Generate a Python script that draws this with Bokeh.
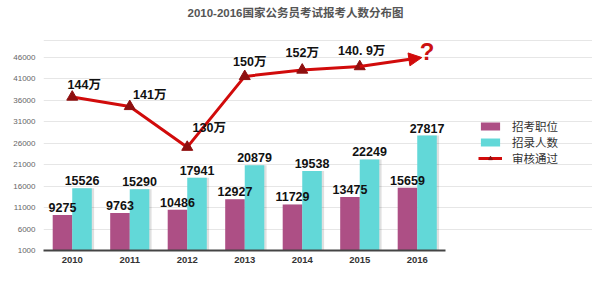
from bokeh.plotting import figure
from bokeh.models import (ColumnDataSource, Range1d, FixedTicker, Legend, LegendItem,
                          Arrow, NormalHead)
from bokeh.embed import file_html
from bokeh.resources import INLINE
from bokeh.core.properties import value

title_text = "2010-2016国家公务员考试报考人数分布图"
years = ["2010", "2011", "2012", "2013", "2014", "2015", "2016"]
positions = [9275, 9763, 10486, 12927, 11729, 13475, 15659]      # 招考职位
recruits = [15526, 15290, 17941, 20879, 19538, 22249, 27817]     # 招录人数
approved_labels = ["144万", "141万", "130万", "150万", "152万", "140. 9万"]  # 审核通过
approved_plot = [36800, 34600, 25100, 41600, 43100, 43900]        # drawn height on axis
arrow_end = 46000
y_ticks = [1000, 6000, 11000, 16000, 21000, 26000, 31000, 36000, 41000, 46000]

n = len(years)
xc = [i + 0.5 for i in range(n)]
bw = 0.34

# frame spans to the right/top edges so that legend and title are not clipped
p = figure(width=592, height=281, output_backend="svg", toolbar_location=None,
           x_range=Range1d(0, 9.548), y_range=Range1d(1000, 59300),
           min_border_left=43, min_border_right=0, min_border_top=0, min_border_bottom=31)
p.outline_line_color = None
p.background_fill_color = "white"
p.border_fill_color = "white"

CJK = "Liberation Sans, Noto Sans CJK SC"

# title
p.text(x=[4.383], y=[56270], text=[title_text], text_align="center", text_baseline="middle",
       text_font=value(CJK), text_font_style="bold", text_font_size="11.5px",
       text_color="#555555")

src = ColumnDataSource(dict(pos=positions, rec=recruits,
                            xp=[v - bw / 2 for v in xc], xr=[v + bw / 2 for v in xc],
                            xps=[v - bw / 2 + 0.04 for v in xc], xrs=[v + bw / 2 + 0.04 for v in xc],
                            pl=[str(v) for v in positions], rl=[str(v) for v in recruits]))
# shadows
p.vbar(x="xps", top="pos", bottom=1000, width=bw, source=src,
       fill_color="#000000", fill_alpha=0.12, line_color=None)
p.vbar(x="xrs", top="rec", bottom=1000, width=bw, source=src,
       fill_color="#000000", fill_alpha=0.12, line_color=None)
r_pos = p.vbar(x="xp", top="pos", bottom=1000, width=bw, source=src,
               fill_color="#ad4f85", line_color=None)
r_rec = p.vbar(x="xr", top="rec", bottom=1000, width=bw, source=src,
               fill_color="#62d8d8", line_color=None)

p.text(x="xp", y="pos", text="pl", source=src, text_align="center", text_baseline="bottom",
       y_offset=-3, text_font=value("Liberation Sans"), text_font_style="bold",
       text_font_size="12.5px", text_color="#111111")
p.text(x="xr", y="rec", text="rl", source=src, text_align="center", text_baseline="bottom",
       y_offset=-3, text_font=value("Liberation Sans"), text_font_style="bold",
       text_font_size="12.5px", text_color="#111111")

# line
lx = xc[:6]
r_line = p.line(lx, approved_plot, line_color="#d10b0b", line_width=3)
p.add_layout(Arrow(end=NormalHead(size=13, fill_color="#d10b0b", line_color="#d10b0b"),
                   x_start=xc[5], y_start=approved_plot[5], x_end=xc[6] + 0.08, y_end=arrow_end,
                   line_color="#d10b0b", line_width=3))
r_tri = p.scatter(lx, approved_plot, marker="triangle", size=11, fill_color="#8e0f0f",
                  line_color="#8e0f0f")

lsrc = ColumnDataSource(dict(x=lx, y=approved_plot, t=approved_labels,
                             dx=[12, 20, 22, 5, 0, 2], dy=[-12, -11, -19, -14, -17, -16]))
p.text(x="x", y="y", text="t", source=lsrc, x_offset="dx", y_offset="dy",
       text_align="center", text_baseline="middle", text_font=value(CJK),
       text_font_style="bold", text_font_size="12.5px", text_color="#111111")

p.text(x=[xc[6] + 0.17], y=[arrow_end], text=["?"], y_offset=-6, text_align="center",
       text_baseline="middle", text_font=value("Liberation Sans"), text_font_style="bold",
       text_font_size="24px", text_color="#cc1111")

# axes
p.yaxis.ticker = FixedTicker(ticks=y_ticks)
p.yaxis.axis_line_color = None
p.yaxis.major_tick_line_color = None
p.yaxis.minor_tick_line_color = None
p.yaxis.major_label_standoff = 2
p.yaxis.major_label_text_font = "Liberation Sans"
p.yaxis.major_label_text_font_size = "8px"
p.yaxis.major_label_text_color = "#666666"

p.xaxis.ticker = FixedTicker(ticks=xc)
p.xaxis.bounds = (0, n)
p.xaxis.major_label_overrides = {v: y for v, y in zip(xc, years)}
p.xaxis.axis_line_color = "#444444"
p.xaxis.axis_line_width = 2
p.xaxis.major_tick_line_color = None
p.xaxis.minor_tick_line_color = None
p.xaxis.major_label_standoff = 0
p.xaxis.major_label_text_font = "Liberation Sans"
p.xaxis.major_label_text_font_style = "bold"
p.xaxis.major_label_text_font_size = "9.5px"
p.xaxis.major_label_text_color = "#333333"

p.xgrid.grid_line_color = None
p.ygrid.grid_line_color = "#e6e6e6"
p.ygrid.ticker = FixedTicker(ticks=y_ticks + [50000])
p.ygrid.bounds = (0, n)

legend = Legend(items=[LegendItem(label="招考职位", renderers=[r_pos]),
                       LegendItem(label="招录人数", renderers=[r_rec]),
                       LegendItem(label="审核通过", renderers=[r_line, r_tri])],
                location=(435, 84), orientation="vertical",
                glyph_width=24, glyph_height=10, label_height=10, label_standoff=10,
                spacing=0, padding=0, margin=0, border_line_color=None,
                background_fill_alpha=0,
                label_text_font="Noto Sans CJK SC", label_text_font_size="11.5px",
                label_text_color="#333333")
p.add_layout(legend)

open("out.html", "w").write(file_html(p, INLINE))
